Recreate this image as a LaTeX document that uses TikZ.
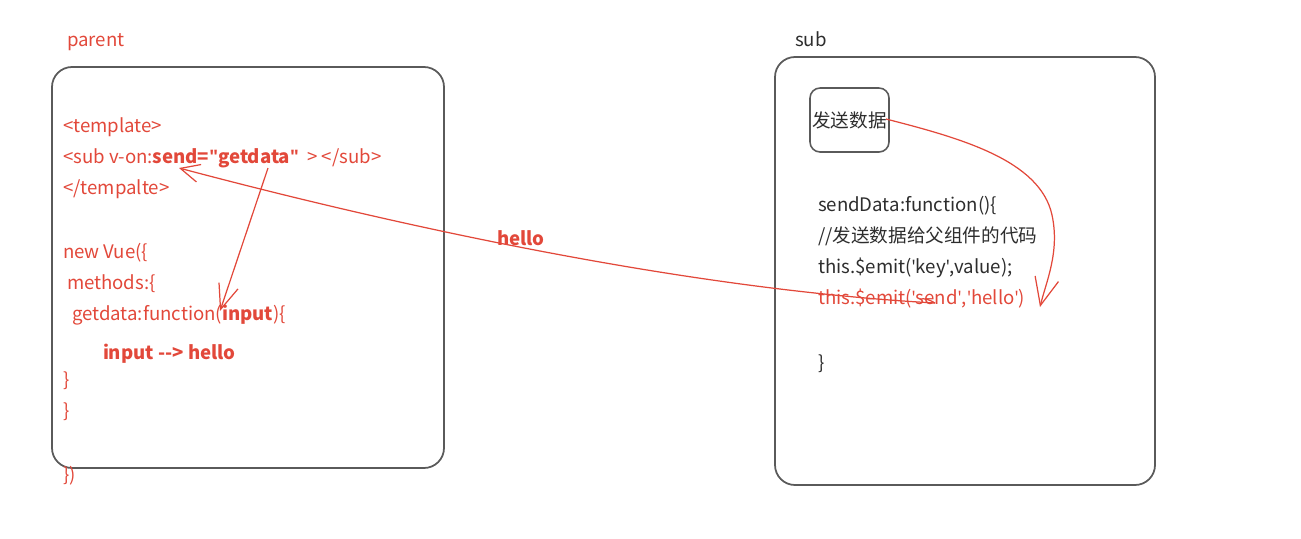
\documentclass[tikz,border=0pt]{standalone}
\usepackage{fontspec}
\setmainfont{Noto Sans CJK SC}
\newfontfamily\qfont{Open Sans}
\usetikzlibrary{arrows.meta}
\definecolor{cred}{RGB}{226,72,58}
\definecolor{cdark}{RGB}{45,45,45}
\definecolor{cframe}{RGB}{90,90,90}
\newcommand\dq{{\qfont\char"22\relax}}
\newcommand\sq{{\qfont\char"27\relax}}
\begin{document}
\begin{tikzpicture}[x=0.02cm,y=-0.02cm,
  every node/.style={inner sep=0pt,outer sep=0pt,font=\fontsize{10.6pt}{12.5pt}\selectfont},
  rcode/.style={anchor=base west,text=cred},
  dcode/.style={anchor=base west,text=cdark},
  panel/.style={draw=cframe,line width=1pt,rounded corners=0.4cm},
  btn/.style={draw=cframe,line width=0.9pt,rounded corners=0.2cm,minimum width=1.58cm,minimum height=1.28cm,text=cdark},
  flow/.style={draw=cred,line width=0.7pt}
]
\useasboundingbox (0,0) rectangle (1301,538);
% panels
\draw[panel] (52,67) rectangle (444,468);
\draw[panel] (775,57) rectangle (1155,485);
% titles
\node[rcode] (ptitle) at (67,46) {parent};
\node[dcode] (stitle) at (795,46) {sub};
% parent code
\node[rcode] (p1) at (63,132) {<template>};
\node[rcode] (p2) at (63,163) {<sub v-on:\textbf{send=\dq getdata\dq} \ > </sub>};
\node[rcode] (p3) at (63,194) {</tempalte>};
\node[rcode] (p4) at (63,258) {new Vue(\{};
\node[rcode] (p5) at (67,289) {methods:\{};
\node[rcode] (p6) at (72,320) {getdata:function(\textbf{input})\{};
\node[rcode] (p7) at (103,359) {\textbf{input -{}-> hello}};
\node[rcode] (p8) at (63,386) {\}};
\node[rcode] (p9) at (63,417) {\}};
\node[rcode] (p10) at (63,481) {\})};
% sub code
\node[btn] (sendbtn) at (849.5,120) {\makebox[0pt]{发送数据}};
\node[dcode] (s1) at (818,211) {sendData:function()\{};
\node[dcode] (s2) at (818,242) {//发送数据给父组件的代码};
\node[dcode] (s3) at (818,273) {this.\$emit(\sq key\sq,value);};
\node[rcode] (s4) at (818,304) {this.\$emit(\sq send\sq,\sq hello\sq)};
\node[dcode] (s5) at (818,369) {\}};
\node[text=cred,font=\fontsize{10.6pt}{12.5pt}\selectfont\bfseries] (hellolbl) at (521,238) {hello};
% connector points
\coordinate (btnout) at (886,119);
\coordinate (emitend) at (1040,307);
\coordinate (emitstart) at (935,303);
\coordinate (sendtxt) at (179,168);
\coordinate (getdatatxt) at (268,168);
\coordinate (inputarg) at (220,311);
% connectors
\draw[flow,-{Straight Barb[length=0.55cm,width=0.48cm]}] (btnout) .. controls (960,138) and (1040,160) .. (1052,215) .. controls (1060,252) and (1046,282) .. (emitend);
\draw[flow] (emitstart) .. controls (930,300) and (925,298) .. (920,299);
\draw[flow,-{Straight Barb[length=0.38cm,width=0.36cm]}] (emitstart) .. controls (700,290) and (420,232) .. (sendtxt);
\draw[flow,-{Straight Barb[length=0.5cm,width=0.4cm]}] (getdatatxt) -- (inputarg);
\end{tikzpicture}
\end{document}
